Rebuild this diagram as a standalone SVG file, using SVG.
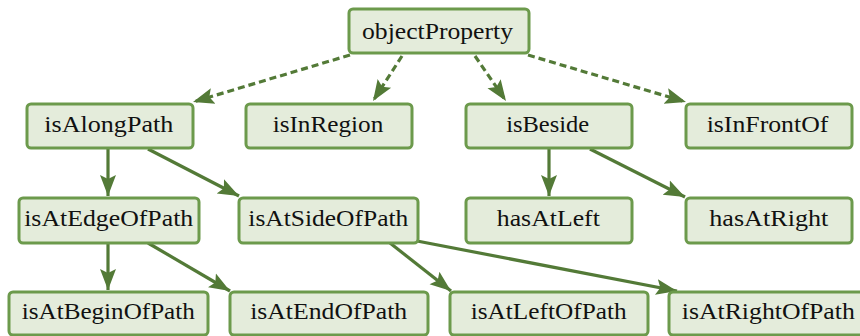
<svg xmlns="http://www.w3.org/2000/svg" width="860" height="336" viewBox="0 0 860 336">
<style>
.box{fill:#e4ecdb;stroke:#6c9a4c;stroke-width:3}
.e{fill:none;stroke:#537a37;stroke-width:3.2}
.d{stroke-dasharray:7,4}
</style>
<defs>
<marker id="ah" markerUnits="userSpaceOnUse" markerWidth="22" markerHeight="18" viewBox="0 0 22 16" refX="21" refY="8" orient="auto">
<path d="M0,0 L21,8 L0,16 L4,8 z" fill="#537a37"/>
</marker>
</defs>
<g id="connectors">
<path class="e d" d="M350,55 L193,102" marker-end="url(#ah)"/>
<path class="e d" d="M402,56 L373,101" marker-end="url(#ah)"/>
<path class="e d" d="M475,56 L506,101" marker-end="url(#ah)"/>
<path class="e d" d="M528,55 L686,102" marker-end="url(#ah)"/>
<path class="e" d="M108,149 L108,196" marker-end="url(#ah)"/>
<path class="e" d="M148,149 L239,196" marker-end="url(#ah)"/>
<path class="e" d="M549,149 L549,196" marker-end="url(#ah)"/>
<path class="e" d="M590,149 L685,197" marker-end="url(#ah)"/>
<path class="e" d="M108,243 L108,290" marker-end="url(#ah)"/>
<path class="e" d="M148,243 L230,291" marker-end="url(#ah)"/>
<path class="e" d="M390,243 L451,291" marker-end="url(#ah)"/>
<path class="e" d="M417,241 L677,291" marker-end="url(#ah)"/>
</g>
<g font-family="Liberation Serif" font-size="24" fill="#111" text-anchor="middle" lengthAdjust="spacingAndGlyphs">
<g id="objectProperty"><rect class="box" x="349" y="9" width="180" height="44" rx="4"/><text x="437.5" y="38.5" textLength="151" lengthAdjust="spacingAndGlyphs">objectProperty</text></g>
<g id="isAlongPath"><rect class="box" x="27" y="104" width="166" height="44" rx="4"/><text x="108.8" y="131.7" textLength="129" lengthAdjust="spacingAndGlyphs">isAlongPath</text></g>
<g id="isInRegion"><rect class="box" x="246" y="104" width="166" height="44" rx="4"/><text x="328" y="131.7" textLength="110.7" lengthAdjust="spacingAndGlyphs">isInRegion</text></g>
<g id="isBeside"><rect class="box" x="466" y="104" width="166" height="44" rx="4"/><text x="547.7" y="131.7" textLength="83" lengthAdjust="spacingAndGlyphs">isBeside</text></g>
<g id="isInFrontOf"><rect class="box" x="686" y="104" width="166" height="44" rx="4"/><text x="767.5" y="131.7" textLength="121.7" lengthAdjust="spacingAndGlyphs">isInFrontOf</text></g>
<g id="isAtEdgeOfPath"><rect class="box" x="19" y="198" width="180" height="45" rx="4"/><text x="108.7" y="225.7" textLength="169" lengthAdjust="spacingAndGlyphs">isAtEdgeOfPath</text></g>
<g id="isAtSideOfPath"><rect class="box" x="239" y="198" width="179" height="45" rx="4"/><text x="328.3" y="225.7" textLength="160" lengthAdjust="spacingAndGlyphs">isAtSideOfPath</text></g>
<g id="hasAtLeft"><rect class="box" x="466" y="198" width="166" height="45" rx="4"/><text x="548.3" y="225.7" textLength="103" lengthAdjust="spacingAndGlyphs">hasAtLeft</text></g>
<g id="hasAtRight"><rect class="box" x="686" y="198" width="166" height="45" rx="4"/><text x="768.8" y="225.7" textLength="119" lengthAdjust="spacingAndGlyphs">hasAtRight</text></g>
<g id="isAtBeginOfPath"><rect class="box" x="9" y="292" width="199" height="43" rx="4"/><text x="108.3" y="319" textLength="173" lengthAdjust="spacingAndGlyphs">isAtBeginOfPath</text></g>
<g id="isAtEndOfPath"><rect class="box" x="230" y="292" width="198" height="43" rx="4"/><text x="328.7" y="319" textLength="157" lengthAdjust="spacingAndGlyphs">isAtEndOfPath</text></g>
<g id="isAtLeftOfPath"><rect class="box" x="450" y="292" width="198" height="43" rx="4"/><text x="548.7" y="319" textLength="156" lengthAdjust="spacingAndGlyphs">isAtLeftOfPath</text></g>
<g id="isAtRightOfPath"><rect class="box" x="669" y="292" width="200" height="43" rx="4"/><text x="768.3" y="319" textLength="173" lengthAdjust="spacingAndGlyphs">isAtRightOfPath</text></g>
</g>
</svg>
